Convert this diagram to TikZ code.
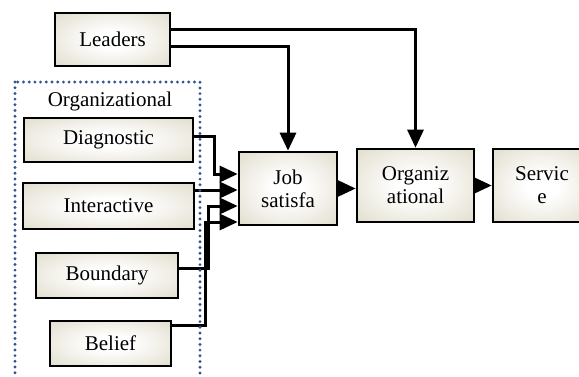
\documentclass[tikz,border=0pt]{standalone}
\usepackage{fontspec}
\setmainfont{Liberation Serif}
\usetikzlibrary{arrows.meta}
\definecolor{boxtan}{RGB}{210,204,180}
\definecolor{dotblue}{RGB}{50,84,145}
\pgfdeclareradialshading{boxglow}{\pgfpoint{0bp}{0bp}}{color(0bp)=(white); color(8bp)=(white); color(50bp)=(boxtan); color(100bp)=(boxtan)}
\begin{document}
\begin{tikzpicture}[x=1pt,y=-1pt,
		blk/.style={draw,line width=2.6pt,shading=boxglow,align=center,inner sep=0pt,font=\rmfamily\fontsize{21}{23}\selectfont},
		link/.style={line width=3pt,-{Triangle[length=18pt,width=16pt]}}]
				\clip (0,0) rectangle (579,376);
				\node[blk,minimum width=115pt,minimum height=53pt] (lead) at (112.5,39.5) {Leaders};
				\node[blk,minimum width=169pt,minimum height=44pt] (diag) at (108.5,140) {Diagnostic};
				\node[blk,minimum width=171pt,minimum height=46pt] (inter) at (108.5,206) {Interactive};
				\node[blk,minimum width=142pt,minimum height=45pt] (bound) at (107,275.5) {Boundary};
				\node[blk,minimum width=121pt,minimum height=45pt] (belief) at (110.5,343.5) {Belief};
				\node[blk,minimum width=98pt,minimum height=73pt] (job) at (288,188.5) {Job\\satisfa};
				\node[blk,minimum width=117pt,minimum height=73pt] (org) at (415.5,185.5) {Organiz\\ational};
				\node[blk,minimum width=98pt,minimum height=73pt] (serv) at (542,185.5) {Servic\\e};
				\node[font=\rmfamily\fontsize{21}{23}\selectfont] (orglab) at (110,101) {Organizational};
				\draw[link] ([yshift=10.5pt]lead.east) -| (org.north);
				\draw[link] ([yshift=-6.5pt]lead.east) -| (job.north);
				\draw[link] ([yshift=4pt]diag.east) -- ++(20,0) |- (job.west |- 0,174);
				\draw[link] (inter.east |- 0,190) -- (job.west |- 0,190);
				\draw[link] (bound.east |- 0,268) -- ++(29,0) |- (job.west |- 0,206);
				\draw[link] (belief.east |- 0,325) -- ++(33,0) |- (job.west |- 0,222);
				\draw[link] (job.east) -- (org.west |- job.east);
				\draw[link] (org.east) -- (serv.west);
				\draw[dotblue,line width=3.2pt,line cap=round,dash pattern=on 0pt off 5.7pt] (15,82) rectangle (200,400);
\end{tikzpicture}
\end{document}
